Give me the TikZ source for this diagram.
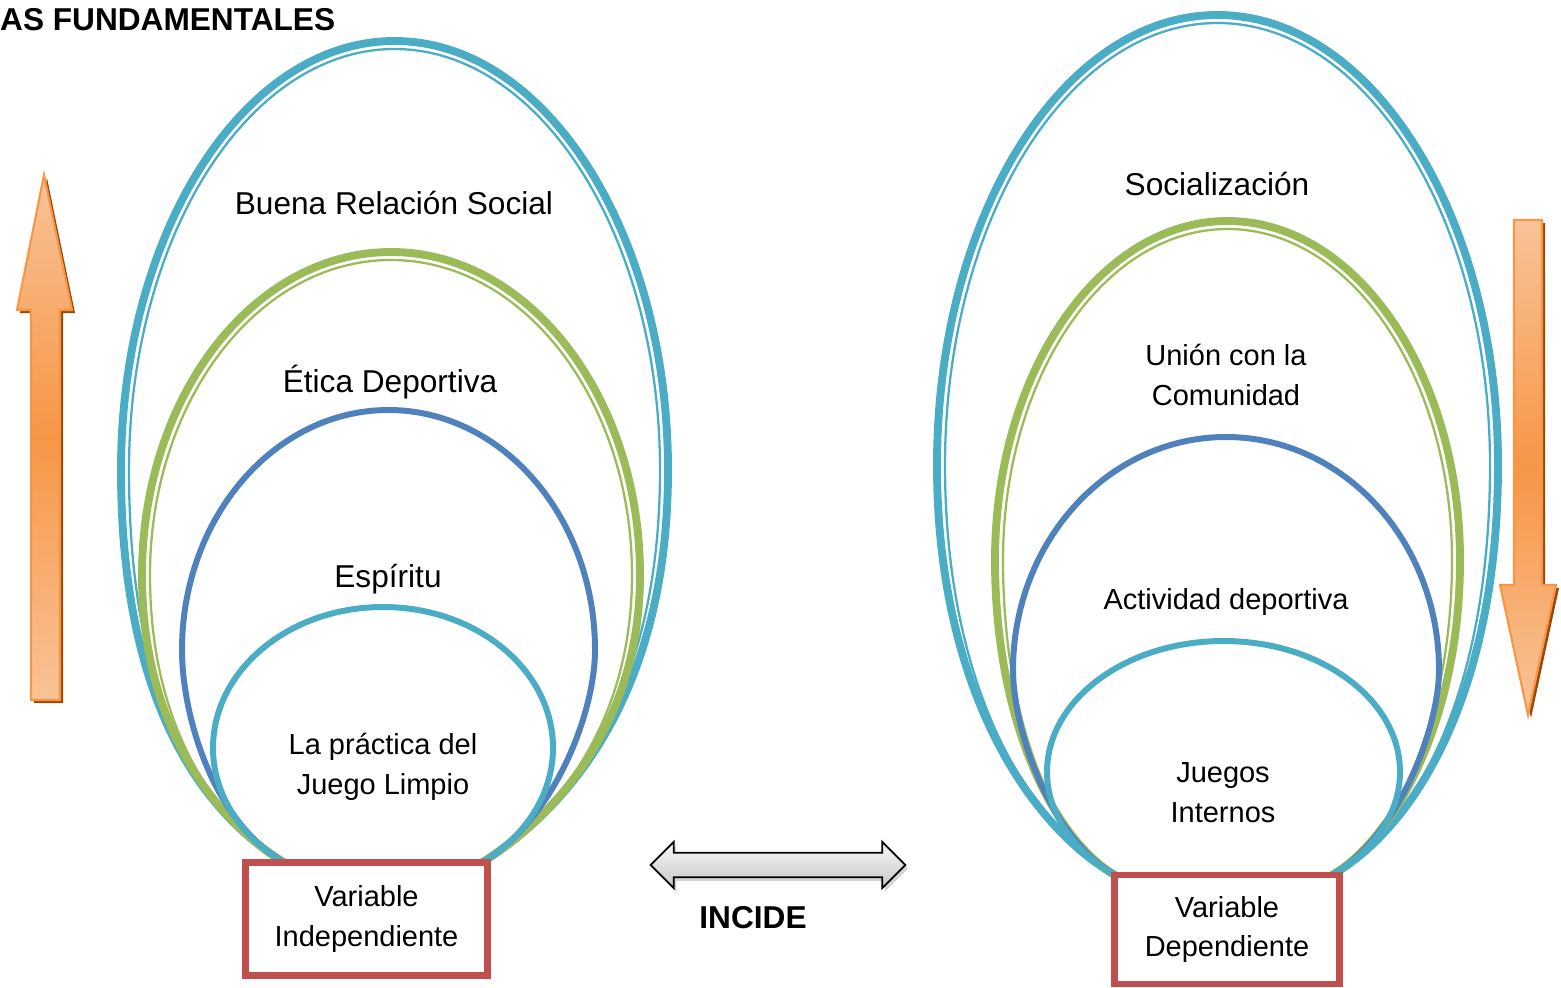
\documentclass[tikz,border=0pt]{standalone}
\usepackage{fontspec}
\setmainfont{Liberation Sans}
\usepackage{tikz}
\usetikzlibrary{shadows}
\usetikzlibrary{positioning}
\usetikzlibrary{arrows,shapes}
\usetikzlibrary{shapes.arrows}
\usetikzlibrary{calc}
\definecolor{ringcyan}{HTML}{4BACC6}
\definecolor{ringgreen}{HTML}{9BBB59}
\definecolor{ringblue}{HTML}{4F81BD}
\definecolor{boxred}{HTML}{C0504D}
\definecolor{arroworange}{HTML}{F79646}
\definecolor{arrowlight}{HTML}{F9C398}
\definecolor{arrowshade}{HTML}{984807}
\tikzstyle{ring}=[line width=4.5pt]
\tikzstyle{thinring}=[line width=1.3pt]
\tikzstyle{innerring}=[line width=3.4pt]
\tikzstyle{ringtext}=[font=\fontsize{18}{22}\selectfont, align=center]
\tikzstyle{smallringtext}=[font=\fontsize{16.5}{22.7}\selectfont, align=center]
\tikzstyle{varbox}=[draw=boxred, line width=3.6pt, fill=white, inner sep=0pt, font=\fontsize{16.5}{22.4}\selectfont, align=center]
\tikzstyle{orangearrow}=[draw=arroworange, line width=1.2pt, top color=arrowlight, bottom color=arrowlight, middle color=arroworange]
\tikzstyle{arrowshadow}=[fill=arrowshade]
\tikzstyle{incidearrow}=[double arrow, draw=black, line width=1pt, top color=gray!5, bottom color=gray!45, inner xsep=0pt, inner ysep=6.5pt, minimum height=145pt, double arrow head extend=6.2pt, double arrow tip angle=90, drop shadow={opacity=0.35, shadow xshift=1.5pt, shadow yshift=-2pt}]
\tikzstyle{boldtext}=[font=\fontsize{18}{22}\selectfont\bfseries]
% ring: style, left x, right x, y of widest part, top y, pull at the side, pull into the inner ring
% (\ecx, \edx, \ey, \etx, \ety: where the rings meet the inner ring, set per group)
\newcommand{\egg}[7]{%
  \pgfmathsetmacro{\eggcx}{(#2+#3)/2}%
  \pgfmathsetmacro{\eggrx}{(#3-(#2))/2}%
  \pgfmathsetmacro{\eggry}{#4-(#5)}%
  \draw[#1] (\ecx,{\ey+30}) -- ({\ecx-\edx+25*\etx},{\ey+25*\ety}) -- ({\ecx-\edx},\ey)
    .. controls ({\ecx-\edx-#7*\etx},{\ey-#7*\ety}) and (#2,{#4+#6}) .. (#2,#4)
    .. controls (#2,{#4-0.552*\eggry}) and ({\eggcx-0.552*\eggrx},#5) .. (\eggcx,#5)
    .. controls ({\eggcx+0.552*\eggrx},#5) and (#3,{#4-0.552*\eggry}) .. (#3,#4)
    .. controls (#3,{#4+#6}) and ({\ecx+\edx+#7*\etx},{\ey-#7*\ety}) .. ({\ecx+\edx},\ey)
    -- ({\ecx+\edx-25*\etx},{\ey+25*\ety}) -- cycle;
}

\begin{document}
\begin{tikzpicture}[x=0.02cm, y=-0.02cm]
\useasboundingbox (0,0) rectangle (1561,987);

\node[boldtext, anchor=west] (title) at (-6,20) {AS FUNDAMENTALES};

%variable independiente
  \def\ecx{383}\def\edx{106}\def\ey{858}\def\etx{0.834}\def\ety{0.552}
  \foreach \col/\xl/\xr/\ym/\yt/\k/\s in {ringcyan/121/668/470/41/220/100, ringgreen/142/640/575/252/156/70}
  {
    \egg{\col, ring}{\xl}{\xr}{\ym}{\yt}{\k}{\s}
    \egg{\col, thinring}{\xl+8}{\xr-8}{\ym}{\yt+8}{\k}{\s}
  }
    \egg{ringblue, innerring}{182}{595}{650}{410}{62}{80}
    \egg{ringcyan, innerring}{213}{553}{748}{607}{43}{48}

    \node[ringtext] (social) at (394,203) {Buena Relación Social};
    \node[ringtext] (etica) at (390,382) {Ética Deportiva};
    \node[ringtext] (espiritu) at (388,579) {Espíritu};
    \node[smallringtext] (juegolimpio) at (383,767) {La práctica del\\Juego Limpio};
    \node[varbox, minimum width=137.8pt, minimum height=64.4pt] (varindep) at (366.5,919) {Variable\\Independiente};

%variable dependiente
  \def\ecx{1223.5}\def\edx{107}\def\ey{876}\def\etx{0.869}\def\ety{0.494}
  \foreach \col/\xl/\xr/\ym/\yt/\k/\s in {ringcyan/937/1498/465/15/224/100, ringgreen/995/1460/560/221/165/70}
  {
    \egg{\col, ring}{\xl}{\xr}{\ym}{\yt}{\k}{\s}
    \egg{\col, thinring}{\xl+8}{\xr-8}{\ym}{\yt+8}{\k}{\s}
  }
    \egg{ringblue, innerring}{1013}{1439}{670}{437}{55}{80}
    \egg{ringcyan, innerring}{1047}{1400}{772}{641}{41}{50}

    \node[ringtext] (socializacion) at (1217,184) {Socialización};
    \node[smallringtext] (comunidad) at (1226,375) {Unión con la\\Comunidad};
    \node[smallringtext] (actividad) at (1226,602) {Actividad deportiva};
    \node[smallringtext] (internos) at (1223,793) {Juegos\\Internos};
    \node[varbox, minimum width=128.1pt, minimum height=61.8pt] (vardep) at (1227,929.5) {Variable\\Dependiente};

% incide
    \node[incidearrow] (incide) at (778,865) {};
    \node[boldtext] (incidelabel) at (753,918) {INCIDE};

% orange arrows
    \path[arrowshadow, shift={(3,3)}] (31,700) -- (31,310) -- (17,310) -- (44,175) -- (72,310) -- (60,310) -- (60,700) -- cycle;
    \path[orangearrow] (31,700) -- (31,310) -- (17,310) -- (44,175) -- (72,310) -- (60,310) -- (60,700) -- cycle;
    \path[arrowshadow, shift={(3,3)}] (1514,220) -- (1514,585) -- (1500,585) -- (1528,715) -- (1556,585) -- (1542,585) -- (1542,220) -- cycle;
    \path[orangearrow] (1514,220) -- (1514,585) -- (1500,585) -- (1528,715) -- (1556,585) -- (1542,585) -- (1542,220) -- cycle;

\end{tikzpicture}
\end{document}
